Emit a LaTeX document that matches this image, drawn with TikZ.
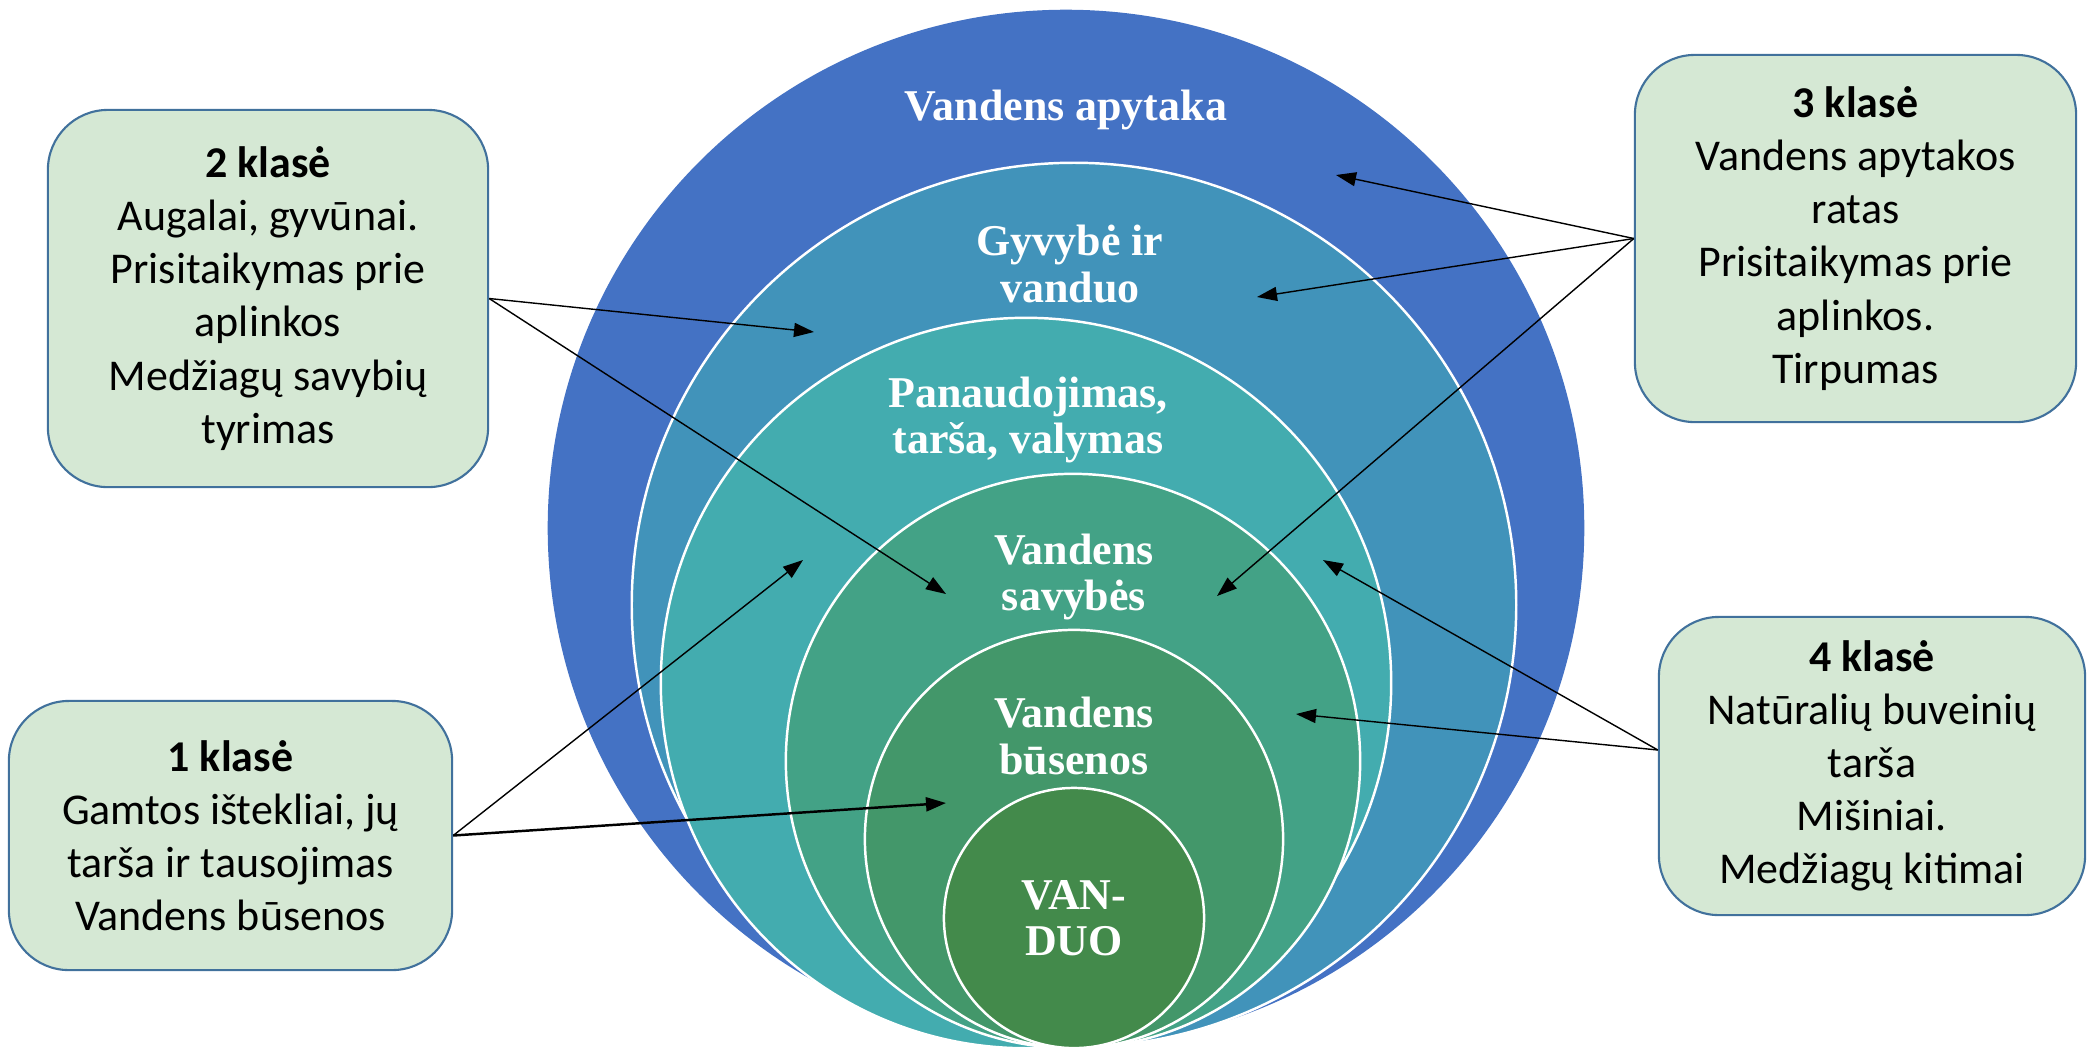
\documentclass[tikz,border=0pt]{standalone}
\usepackage{fontspec}
\setmainfont{Carlito}
\newfontfamily\ringfont{Liberation Serif}
\usetikzlibrary{arrows.meta}
\definecolor{ringA}{HTML}{4472C4}
\definecolor{ringB}{HTML}{4193BA}
\definecolor{ringC}{HTML}{43ACAF}
\definecolor{ringD}{HTML}{43A286}
\definecolor{ringE}{HTML}{43976A}
\definecolor{ringF}{HTML}{438A4B}
\definecolor{boxfill}{HTML}{D5E8D4}
\definecolor{boxline}{HTML}{41719C}
\begin{document}
\begin{tikzpicture}[x=0.01cm,y=-0.01cm,
  ring/.style={fill=#1,draw=white,line width=0.7pt},
  ringlabel/.style={text=white,align=center,inner sep=0pt,
    font=\ringfont\bfseries\fontsize{12.5}{13.1}\selectfont},
  klase/.style={draw=boxline,line width=0.6pt,fill=boxfill,rounded corners=0.6cm,
    align=center,inner sep=0pt,font=\fontsize{12.5}{15.1}\selectfont},
  arr/.style={-{Triangle[length=0.2cm,width=0.14cm]},line width=0.4pt}]
\useasboundingbox (0,0) rectangle (2087,1047);
\fill[ringA] (1066,528) circle[radius=5.18cm];
\filldraw[ring=ringB] (1074,605) circle[radius=4.42cm];
\filldraw[ring=ringC] (1026,683) circle[radius=3.65cm];
\filldraw[ring=ringD] (1073,761) circle[radius=2.87cm];
\filldraw[ring=ringE] (1074,839) circle[radius=2.09cm];
\filldraw[ring=ringF] (1074,918) circle[radius=1.30cm];
\node[ringlabel] (apytaka) at (1066,110) {Vandens apytaka};
\node[ringlabel] (gyvybe) at (1070,264) {Gyvybė ir\\vanduo};
\node[ringlabel] (panaud) at (1028,420) {Panaudojimas,\\tarša, valymas};
\node[ringlabel] (savybes) at (1074,577) {Vandens\\savybės};
\node[ringlabel] (busenos) at (1074,736) {Vandens\\būsenos};
\node[ringlabel] (vanduo) at (1074,918) {VAN-\\DUO};
\node[klase,minimum width=4.40cm,minimum height=3.77cm] (kl2) at (268,298.5)
  {\textbf{2 klasė}\\Augalai, gyvūnai.\\Prisitaikymas prie\\aplinkos\\Medžiagų savybių\\tyrimas};
\node[klase,minimum width=4.43cm,minimum height=2.69cm] (kl1) at (230.5,835.5)
  {\textbf{1 klasė}\\Gamtos ištekliai, jų\\tarša ir tausojimas\\Vandens būsenos};
\node[klase,minimum width=4.41cm,minimum height=3.67cm] (kl3) at (1855.5,238.5)
  {\textbf{3 klasė}\\Vandens apytakos\\ratas\\Prisitaikymas prie\\aplinkos.\\Tirpumas};
\node[klase,minimum width=4.26cm,minimum height=2.98cm] (kl4) at (1872,766)
  {\textbf{4 klasė}\\Natūralių buveinių\\tarša\\Mišiniai.\\Medžiagų kitimai};
\coordinate (t2a) at (814,332);
\coordinate (t2b) at (946,594);
\coordinate (t1a) at (803,560);
\coordinate (t1b) at (946,803);
\coordinate (t3a) at (1336,175);
\coordinate (t3b) at (1257,297);
\coordinate (t3c) at (1217,596);
\coordinate (t4a) at (1323,560);
\coordinate (t4b) at (1296,714);
\draw[arr] (kl2.east) -- (t2a);
\draw[arr] (kl2.east) -- (t2b);
\draw[arr] (kl1.east) -- (t1a);
\draw[arr,line width=0.7pt] (kl1.east) -- (t1b);
\draw[arr] (kl3.west) -- (t3a);
\draw[arr] (kl3.west) -- (t3b);
\draw[arr] (kl3.west) -- (t3c);
\draw[arr] ([yshift=0.16cm]kl4.west) -- (t4a);
\draw[arr] ([yshift=0.16cm]kl4.west) -- (t4b);
\end{tikzpicture}
\end{document}
